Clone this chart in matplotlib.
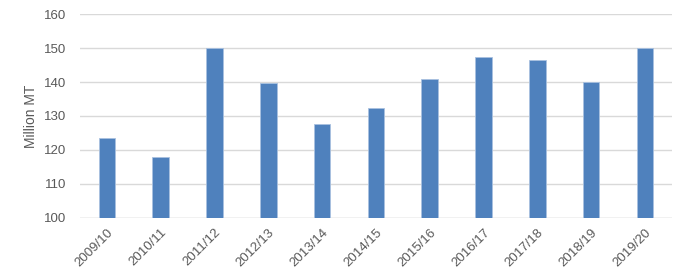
import matplotlib
matplotlib.use("Agg")
import matplotlib.pyplot as plt
import numpy as np

seasons = ["2009/10", "2010/11", "2011/12", "2012/13", "2013/14", "2014/15",
           "2015/16", "2016/17", "2017/18", "2018/19", "2019/20"]
production = [123.4, 117.8, 150.0, 139.7, 127.5, 132.4, 141.0, 147.5, 146.5, 140.0, 150.0]

plt.rcParams['font.family'] = ['Liberation Sans', 'DejaVu Sans']
txt = '#595959'

fig = plt.figure(figsize=(6.8, 2.73), dpi=100)
ax = fig.add_axes([0.1176, 0.2015, 0.8704, 0.7472])

x = np.arange(len(seasons))
ax.bar(x, [p - 100 for p in production], bottom=100, width=0.31,
       color='#4F81BD', edgecolor='#A9C1E0', linewidth=0.6, zorder=3)

ax.set_xlim(-0.5, len(seasons) - 0.5)
ax.set_ylim(100, 160)
ax.set_yticks(range(100, 161, 10))
ax.grid(axis='y', color='#D9D9D9', linewidth=1, zorder=0)
for s in ax.spines.values():
    s.set_visible(False)
ax.axhline(100, color='#D9D9D9', linewidth=1, zorder=1)

ax.set_xticks(x)
ax.set_xticklabels(seasons, rotation=45, ha='right', rotation_mode='anchor')
ax.tick_params(axis='y', length=0, labelsize=9.5, colors=txt, pad=10)
ax.tick_params(axis='x', length=0, labelsize=9.5, colors=txt, pad=6)
ax.set_ylabel('Million MT', fontsize=10, color=txt, labelpad=4)

fig.savefig('out.png', dpi=100)
